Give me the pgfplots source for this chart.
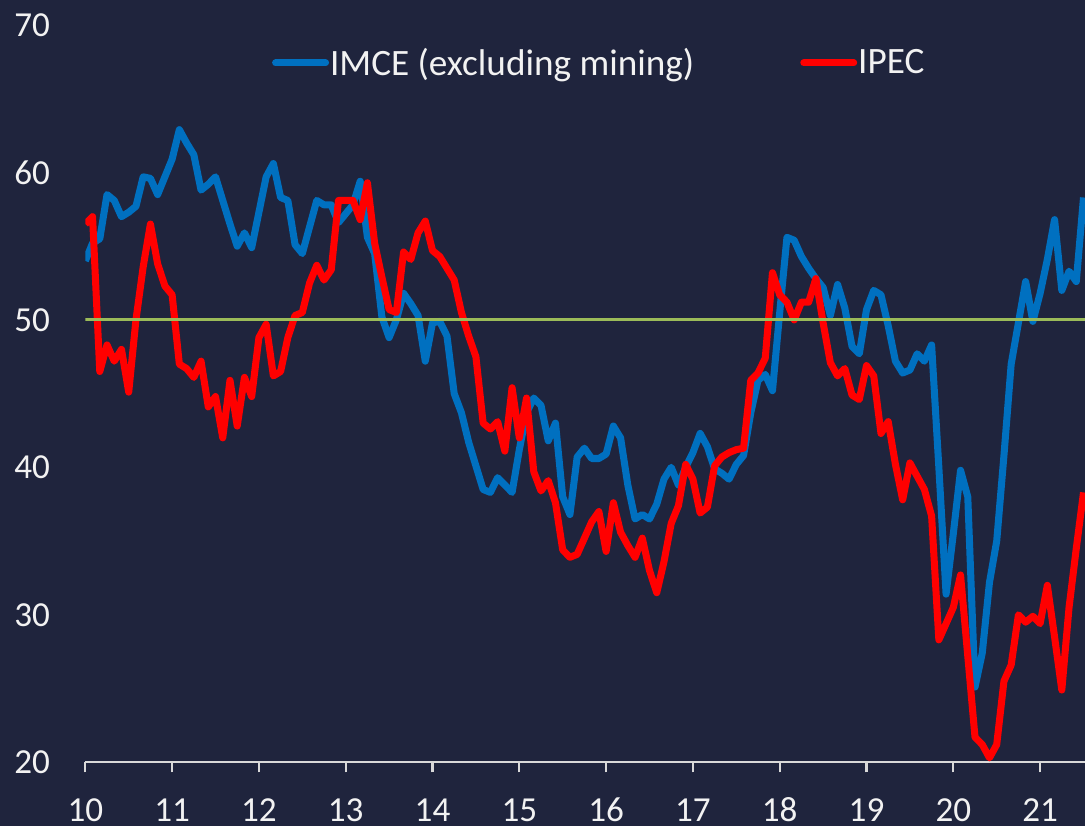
\documentclass[border=0pt]{standalone}
\usepackage{fontspec}
\setmainfont{Carlito}
\usepackage{pgfplots}
\usepackage{pgfplotstable}
\pgfplotsset{compat=1.18}
\usetikzlibrary{backgrounds}
\definecolor{bgnavy}{RGB}{31,36,61}
\definecolor{imceblue}{RGB}{0,112,192}
\definecolor{ipecred}{RGB}{255,0,0}
\definecolor{line50}{RGB}{155,187,89}
\definecolor{axisgray}{RGB}{217,217,217}
\definecolor{labelwhite}{RGB}{242,242,242}

% monthly, m = 0 is Jan 2010
\pgfplotstableread{
m imce ipec
0 54.0 56.5
1 55.2 57.0
2 55.5 46.5
3 58.5 48.3
4 58.1 47.2
5 57.0 48.0
6 57.3 45.1
7 57.7 50.0
8 59.7 53.6
9 59.6 56.5
10 58.5 53.8
11 59.7 52.3
12 60.9 51.7
13 62.9 47.0
14 62.0 46.7
15 61.2 46.1
16 58.8 47.2
17 59.2 44.1
18 59.7 44.8
19 58.1 42.0
20 56.5 45.9
21 55.0 42.8
22 55.9 46.1
23 54.9 44.8
24 57.3 48.8
25 59.7 49.7
26 60.6 46.2
27 58.3 46.5
28 58.1 48.8
29 55.1 50.3
30 54.5 50.5
31 56.3 52.5
32 58.1 53.7
33 57.8 52.7
34 57.8 53.4
35 56.6 58.1
36 57.2 58.1
37 57.8 58.1
38 59.4 56.8
39 55.6 59.3
40 54.5 55.2
41 50.2 52.9
42 48.8 50.7
43 50.0 50.5
44 51.8 54.6
45 51.1 54.1
46 50.3 55.9
47 47.2 56.7
48 49.8 54.7
49 49.9 54.3
50 48.9 53.5
51 45.0 52.7
52 43.7 50.5
53 41.7 48.9
54 40.1 47.5
55 38.5 43.0
56 38.3 42.6
57 39.3 43.1
58 38.8 41.1
59 38.3 45.4
60 41.2 42.0
61 43.7 44.7
62 44.7 39.7
63 44.2 38.4
64 41.8 39.1
65 43.0 37.6
66 38.0 34.4
67 36.8 33.9
68 40.7 34.1
69 41.3 35.2
70 40.6 36.3
71 40.6 37.0
72 40.9 34.3
73 42.8 37.6
74 42.0 35.6
75 38.8 34.7
76 36.5 33.9
77 36.8 35.2
78 36.5 33.0
79 37.5 31.5
80 39.2 33.6
81 40.0 36.2
82 38.8 37.4
83 40.0 40.2
84 41.0 39.2
85 42.3 36.9
86 41.4 37.3
87 39.9 40.1
88 39.6 40.7
89 39.2 41.0
90 40.2 41.2
91 40.8 41.3
92 43.7 45.9
93 45.9 46.4
94 46.3 47.4
95 45.2 53.2
96 50.5 51.7
97 55.6 51.2
98 55.4 50.0
99 54.3 51.2
100 53.5 51.2
101 52.8 52.8
102 52.2 49.8
103 50.3 47.1
104 52.4 46.2
105 50.8 46.7
106 48.2 44.9
107 47.7 44.6
108 50.7 46.9
109 52.0 46.2
110 51.7 42.3
111 49.6 43.1
112 47.2 40.2
113 46.4 37.8
114 46.6 40.3
115 47.7 39.4
116 47.2 38.5
117 48.3 36.7
118 40.0 28.3
119 31.4 29.4
120 35.5 30.5
121 39.8 32.7
122 38.0 27.2
123 25.1 21.7
124 27.4 21.2
125 32.2 20.3
126 35.0 21.2
127 40.8 25.5
128 47.0 26.6
129 49.8 30.0
130 52.6 29.5
131 49.9 29.9
132 51.8 29.4
133 54.1 32.0
134 56.8 28.5
135 52.0 24.9
136 53.3 30.5
137 52.6 34.5
138 58.3 38.3
}\survey

\begin{document}
\begin{tikzpicture}
\begin{axis}[
  name=ax,
  scale only axis,
  width=20.012cm, height=14.76cm,
  xmin=0, xmax=138.2, ymin=20, ymax=70,
  xtick={0,12,...,132},
  xticklabels={10,11,12,13,14,15,16,17,18,19,20,21},
  ytick={20,30,...,70},
  axis x line*=bottom, axis y line*=left,
  y axis line style={draw=none},
  x axis line style={draw=axisgray, line width=1.2pt},
  xtick style={draw=axisgray, line width=1.2pt},
  ytick style={draw=none},
  tick align=outside, major tick length=0.2cm,
  tick label style={font=\fontsize{20}{24}\selectfont, text=labelwhite},
  /pgf/number format/assume math mode=true,
  xticklabel style={anchor=base, inner sep=0pt, yshift=-0.98cm},
  yticklabel style={anchor=east, inner sep=0pt, xshift=-0.5cm},
  legend columns=2,
  legend image code/.code={\draw[#1, line cap=round] (0cm,0cm) -- (1.0cm,0cm);},
  legend style={at={(0.1865,0.9485)}, anchor=west, draw=none, fill=none,
    inner sep=0pt, text=labelwhite, font=\fontsize{21.2}{25}\selectfont,
    nodes={inner xsep=0.02cm, inner ysep=0pt},
    /tikz/every even column/.append style={column sep=2.1cm}},
]
\addplot[imceblue, line width=4pt, line join=round] table[x=m, y=imce]{\survey};
\addlegendentry{IMCE (excluding mining)}
\addplot[ipecred, line width=4pt, line join=round] table[x=m, y=ipec]{\survey};
\addlegendentry{IPEC}
\addplot[line50, line width=1.7pt, forget plot] coordinates {(0,50) (138.2,50)};
\end{axis}
\begin{scope}[on background layer]
\fill[bgnavy] ([xshift=-1.708cm, yshift=-1.28cm]ax.south west) rectangle ([yshift=0.5cm]ax.north east);
\end{scope}
\end{tikzpicture}
\end{document}
